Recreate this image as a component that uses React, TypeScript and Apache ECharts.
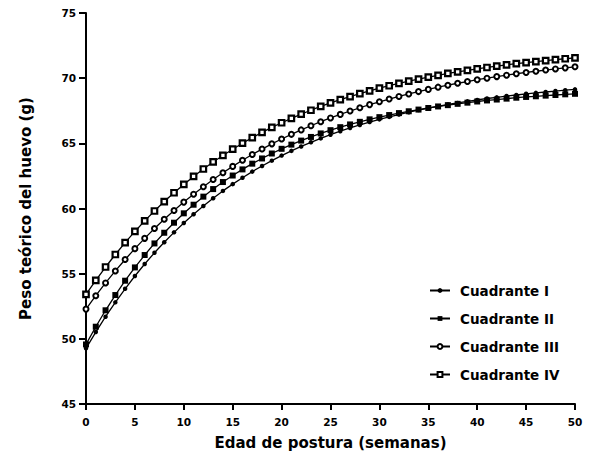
import React, { useEffect, useRef } from "react";
import * as echarts from "echarts";

const weeks = [
  0, 1, 2, 3, 4, 5, 6, 7, 8, 9, 10, 11, 12, 13, 14, 15, 16, 17, 18, 19, 20,
  21, 22, 23, 24, 25, 26, 27, 28, 29, 30, 31, 32, 33, 34, 35, 36, 37, 38, 39,
  40, 41, 42, 43, 44, 45, 46, 47, 48, 49, 50,
];

const cuadranteI = [
  49.27, 50.52, 51.7, 52.8, 53.84, 54.82, 55.74, 56.6, 57.41, 58.17, 58.89,
  59.56, 60.19, 60.79, 61.35, 61.87, 62.36, 62.83, 63.26, 63.67, 64.06, 64.42,
  64.76, 65.08, 65.38, 65.66, 65.93, 66.18, 66.41, 66.63, 66.84, 67.03, 67.21,
  67.39, 67.55, 67.7, 67.84, 67.98, 68.1, 68.22, 68.33, 68.44, 68.53, 68.63,
  68.71, 68.8, 68.87, 68.94, 69.01, 69.08, 69.14,
];

const cuadranteII = [
  49.57, 50.93, 52.19, 53.36, 54.46, 55.48, 56.43, 57.32, 58.14, 58.91, 59.63,
  60.29, 60.91, 61.49, 62.03, 62.53, 63.0, 63.44, 63.84, 64.22, 64.58, 64.9,
  65.21, 65.49, 65.76, 66.01, 66.24, 66.45, 66.65, 66.84, 67.01, 67.17, 67.32,
  67.46, 67.59, 67.71, 67.83, 67.93, 68.03, 68.12, 68.21, 68.29, 68.36, 68.43,
  68.5, 68.56, 68.61, 68.66, 68.71, 68.76, 68.8,
];

const cuadranteIII = [
  52.28, 53.31, 54.29, 55.21, 56.09, 56.92, 57.71, 58.46, 59.17, 59.85, 60.49,
  61.1, 61.67, 62.22, 62.74, 63.23, 63.7, 64.14, 64.56, 64.96, 65.33, 65.69,
  66.03, 66.35, 66.66, 66.95, 67.22, 67.48, 67.73, 67.97, 68.19, 68.4, 68.6,
  68.79, 68.97, 69.14, 69.31, 69.46, 69.61, 69.74, 69.88, 70.0, 70.12, 70.23,
  70.34, 70.44, 70.53, 70.62, 70.71, 70.79, 70.87,
];

const cuadranteIV = [
  53.41, 54.49, 55.51, 56.47, 57.38, 58.24, 59.05, 59.81, 60.53, 61.21, 61.85,
  62.46, 63.03, 63.57, 64.07, 64.55, 65.01, 65.44, 65.84, 66.22, 66.58, 66.92,
  67.24, 67.54, 67.83, 68.1, 68.35, 68.59, 68.82, 69.03, 69.23, 69.42, 69.6,
  69.77, 69.93, 70.08, 70.22, 70.36, 70.48, 70.6, 70.72, 70.82, 70.92, 71.02,
  71.11, 71.19, 71.27, 71.35, 71.42, 71.49, 71.55,
];

const seriesNames = ["Cuadrante I", "Cuadrante II", "Cuadrante III", "Cuadrante IV"];

const FONT = "DejaVu Sans";

export default function App() {
  const ref = useRef<HTMLDivElement>(null);

  useEffect(() => {
    if (!ref.current) return;
    const chart = echarts.init(ref.current, null, { renderer: "svg" });

    const pairs = (vals: number[]) => weeks.map((w, i) => [w, vals[i]]);

    const base = {
      type: "line",
      lineStyle: { color: "#000", width: 1.3 },
      showAllSymbol: true,
      z: 3,
    };

    chart.setOption({
      animation: false,
      backgroundColor: "#fff",
      grid: { left: 86, right: 17, top: 13, bottom: 56 },
      legend: {
        orient: "vertical",
        left: 429,
        top: 282,
        padding: 0,
        itemGap: 11,
        itemWidth: 20,
        itemHeight: 6,
        data: seriesNames,
        textStyle: {
          fontFamily: FONT,
          fontWeight: "bold",
          fontSize: 13.5,
          color: "#000",
          padding: [0, 0, 0, 5],
          lineHeight: 17,
        },
      },
      xAxis: {
        type: "value",
        min: 0,
        max: 50,
        interval: 5,
        name: "Edad de postura (semanas)",
        nameLocation: "middle",
        nameGap: 31,
        nameTextStyle: { fontFamily: FONT, fontWeight: "bold", fontSize: 15, color: "#000" },
        axisLine: { lineStyle: { color: "#000", width: 2 } },
        axisTick: { inside: false, length: 6, lineStyle: { color: "#000", width: 2 } },
        axisLabel: { fontFamily: FONT, fontWeight: "bold", fontSize: 10.5, color: "#000", margin: 12 },
        splitLine: { show: false },
      },
      yAxis: {
        type: "value",
        min: 45,
        max: 75,
        interval: 5,
        name: "Peso teórico del huevo (g)",
        nameLocation: "middle",
        nameGap: 53,
        nameTextStyle: { fontFamily: FONT, fontWeight: "bold", fontSize: 15, color: "#000" },
        axisLine: { show: true, lineStyle: { color: "#000", width: 2 } },
        axisTick: { show: true, inside: false, length: 7, lineStyle: { color: "#000", width: 2 } },
        axisLabel: { fontFamily: FONT, fontWeight: "bold", fontSize: 10.5, color: "#000", margin: 10 },
        splitLine: { show: false },
      },
      series: [
        {
          ...base,
          name: seriesNames[0],
          data: pairs(cuadranteI),
          symbol: "circle",
          symbolSize: 4.5,
          itemStyle: { color: "#000" },
        },
        {
          ...base,
          name: seriesNames[1],
          data: pairs(cuadranteII),
          symbol: "rect",
          symbolSize: 6,
          itemStyle: { color: "#000" },
        },
        {
          ...base,
          name: seriesNames[2],
          data: pairs(cuadranteIII),
          symbol: "circle",
          symbolSize: 5,
          itemStyle: { color: "#fff", borderColor: "#000", borderWidth: 2 },
        },
        {
          ...base,
          name: seriesNames[3],
          data: pairs(cuadranteIV),
          symbol: "rect",
          symbolSize: 5.5,
          itemStyle: { color: "#fff", borderColor: "#000", borderWidth: 2.2 },
        },
      ],
    });

    return () => chart.dispose();
  }, []);

  return (
    <div
      ref={ref}
      style={{ position: "absolute", left: 0, top: 0, width: 592, height: 460 }}
    />
  );
}
